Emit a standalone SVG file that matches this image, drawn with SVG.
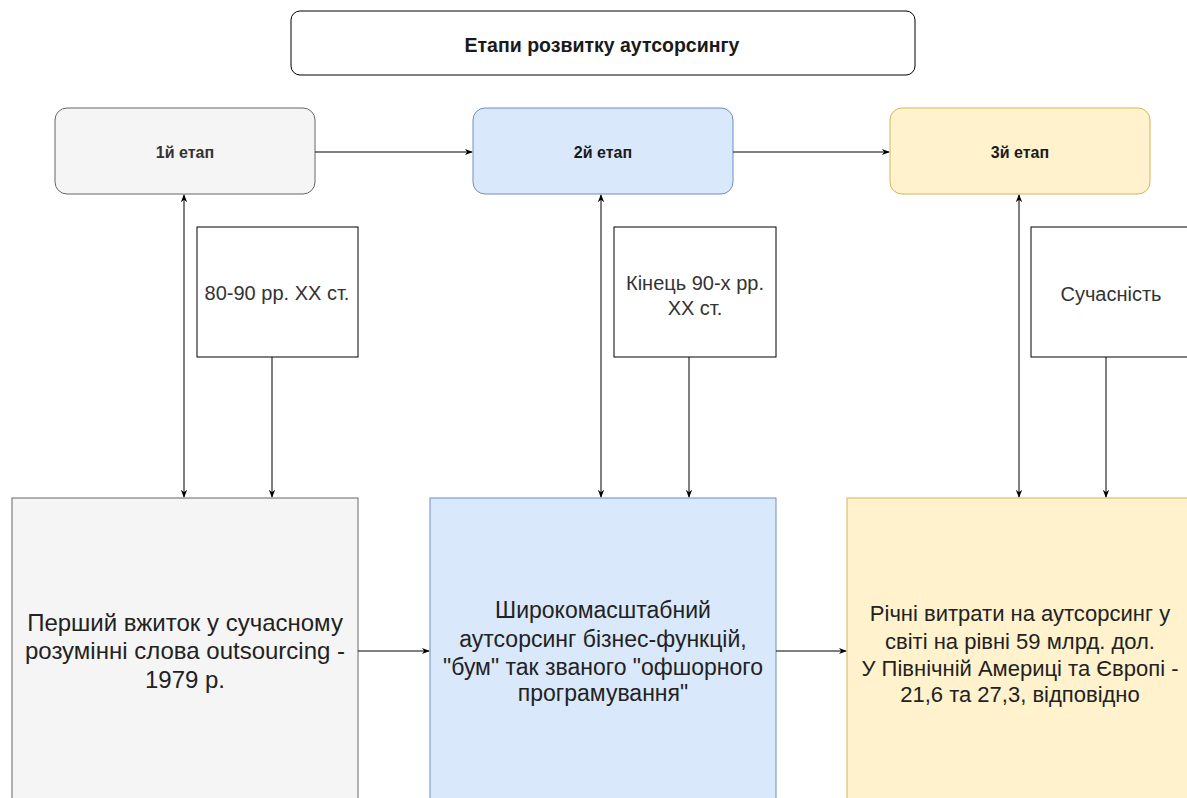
<svg xmlns="http://www.w3.org/2000/svg" width="1187" height="798" viewBox="0 0 1187 798">
<style>
text{font-family:"Liberation Sans",Arial,sans-serif;text-anchor:middle;fill:#1a1a1a}
.b{font-weight:bold;font-size:16px}
.s{font-size:20px;fill:#333}
.L{font-size:24px;fill:#222}
.M{font-size:23px;fill:#222}
.N{font-size:22px;fill:#222}
.c{fill:none;stroke:#000;stroke-width:1}
</style>
<defs>
<marker id="a" viewBox="0 0 10 10" refX="9" refY="5" markerWidth="8" markerHeight="8" markerUnits="userSpaceOnUse" orient="auto-start-reverse"><path d="M0,1 L10,5 L0,9 L3,5 Z" fill="#000"/></marker>
</defs>
<rect width="1187" height="798" fill="#fff"/>
<g id="title"><rect x="291" y="11" width="624" height="64" rx="9" fill="#fff" stroke="#000"/><text x="602" y="52" class="b" style="font-size:19.5px">Етапи розвитку аутсорсингу</text></g>
<g id="stage1"><rect x="55" y="108" width="260" height="86" rx="12" fill="#f5f5f5" stroke="#666"/><text x="185" y="158" class="b" style="fill:#333">1й етап</text></g>
<g id="stage2"><rect x="473" y="108" width="260" height="86" rx="12" fill="#dae8fc" stroke="#6c8ebf"/><text x="603" y="158" class="b">2й етап</text></g>
<g id="stage3"><rect x="890" y="108" width="260" height="86" rx="12" fill="#fff2cc" stroke="#d6b656"/><text x="1020" y="158" class="b">3й етап</text></g>
<g id="time1"><rect x="197" y="227" width="161" height="130" fill="#fff" stroke="#000"/><text x="277" y="300" class="s">80-90 рр. ХХ ст.</text></g>
<g id="time2"><rect x="614" y="227" width="162" height="130" fill="#fff" stroke="#000"/><text x="695" y="290" class="s">Кінець 90-х рр.</text><text x="695" y="315" class="s">ХХ ст.</text></g>
<g id="time3"><rect x="1031" y="227" width="162" height="130" fill="#fff" stroke="#000"/><text x="1111" y="301" class="s">Сучасність</text></g>
<g id="desc1"><rect x="12" y="498" width="346" height="310" fill="#f5f5f5" stroke="#666"/><text x="185" y="631" class="L">Перший вжиток у сучасному</text><text x="185" y="659" class="L">розумінні слова outsourcing -</text><text x="185" y="688" class="L">1979 р.</text></g>
<g id="desc2"><rect x="430" y="498" width="346" height="310" fill="#dae8fc" stroke="#6c8ebf"/><text x="603" y="618" class="M">Широкомасштабний</text><text x="603" y="647" class="M">аутсорсинг бізнес-функцій,</text><text x="603" y="675" class="M">"бум" так званого "офшорного</text><text x="603" y="701" class="M">програмування"</text></g>
<g id="desc3"><rect x="847" y="498" width="346" height="310" fill="#fff2cc" stroke="#d6b656"/><text x="1020" y="621" class="N">Річні витрати на аутсорсинг у</text><text x="1020" y="649" class="N">світі на рівні 59 млрд. дол.</text><text x="1020" y="676" class="N">У Північній Америці та Європі -</text><text x="1020" y="702" class="N">21,6 та 27,3, відповідно</text></g>
<g id="connectors">
<line class="c" x1="315" y1="152" x2="472" y2="152" marker-end="url(#a)"/>
<line class="c" x1="733" y1="152" x2="889" y2="152" marker-end="url(#a)"/>
<line class="c" x1="358" y1="651" x2="429" y2="651" marker-end="url(#a)"/>
<line class="c" x1="776" y1="651" x2="846" y2="651" marker-end="url(#a)"/>
<line class="c" x1="184" y1="195" x2="184" y2="497" marker-start="url(#a)" marker-end="url(#a)"/>
<line class="c" x1="601" y1="195" x2="601" y2="497" marker-start="url(#a)" marker-end="url(#a)"/>
<line class="c" x1="1019" y1="195" x2="1019" y2="497" marker-start="url(#a)" marker-end="url(#a)"/>
<line class="c" x1="272" y1="357" x2="272" y2="497" marker-end="url(#a)"/>
<line class="c" x1="689" y1="357" x2="689" y2="497" marker-end="url(#a)"/>
<line class="c" x1="1106" y1="357" x2="1106" y2="497" marker-end="url(#a)"/>
</g>
</svg>
